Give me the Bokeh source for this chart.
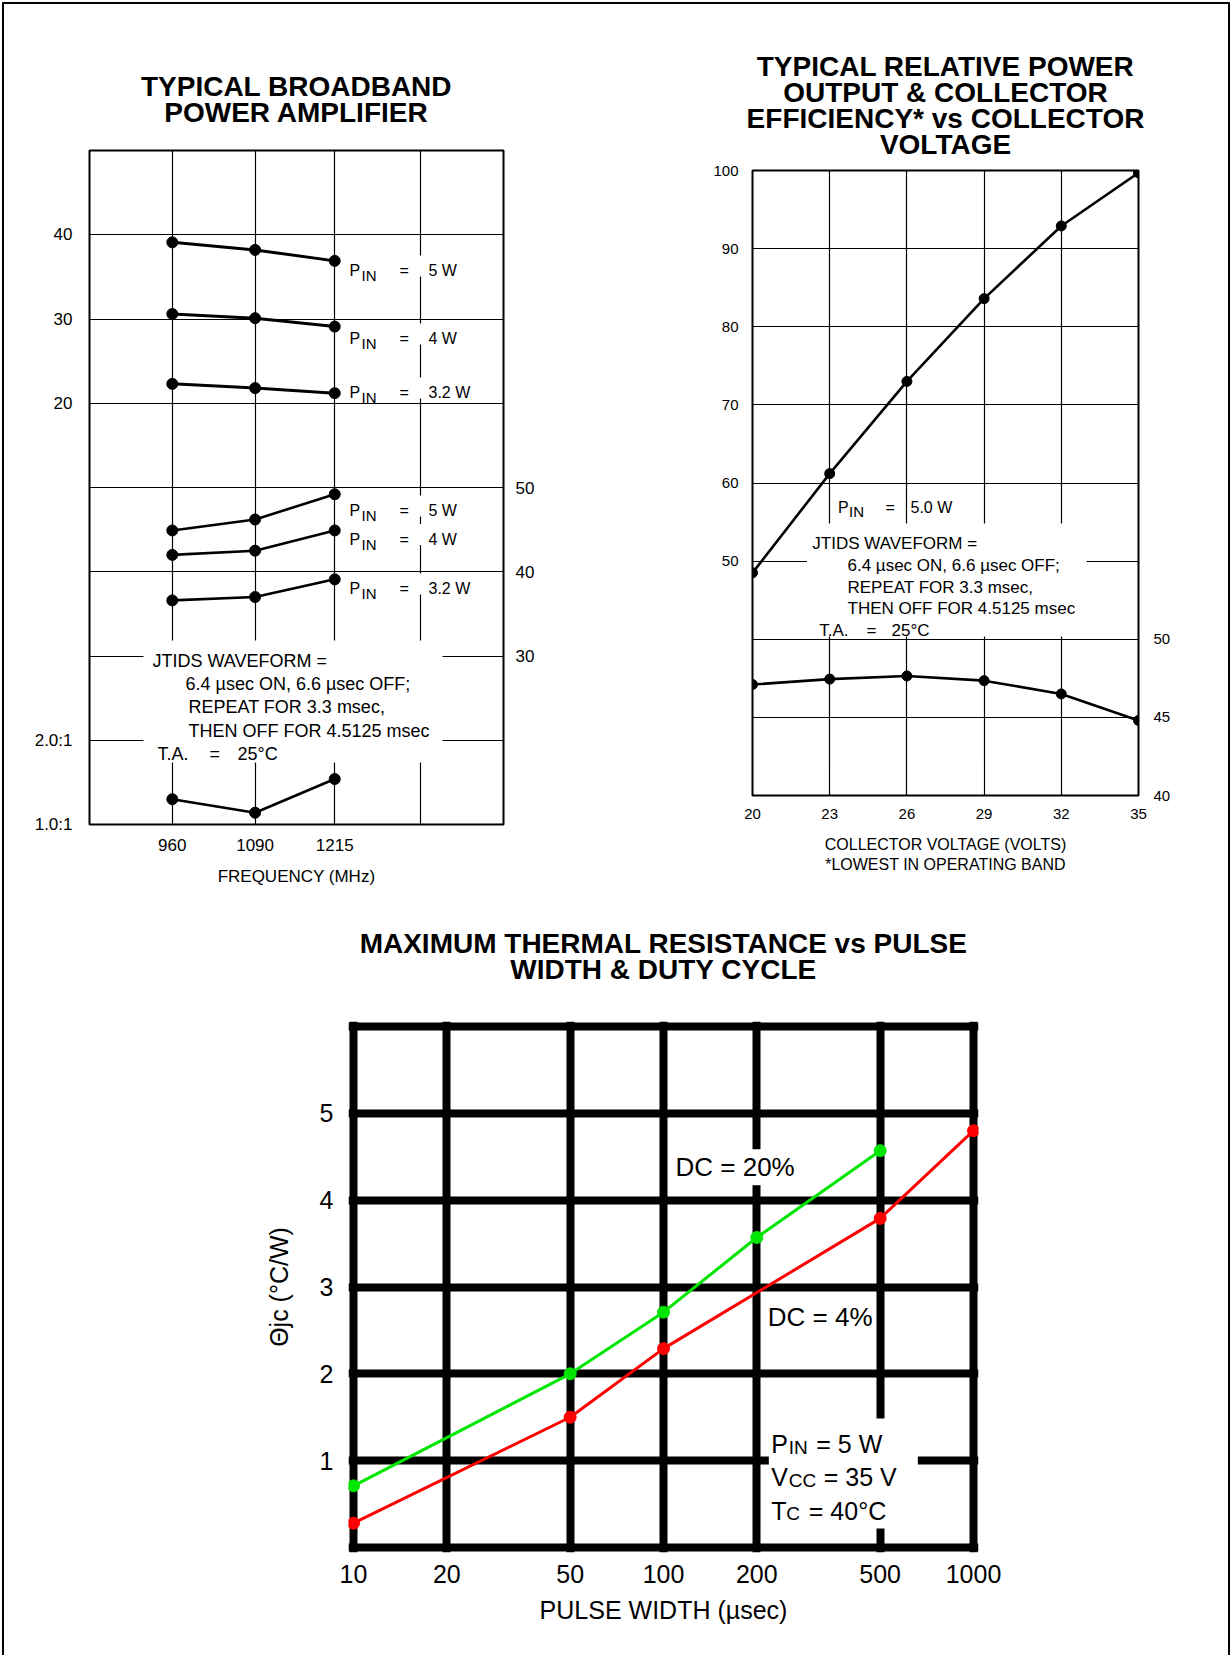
from bokeh.plotting import figure
from bokeh.models import Range1d, LinearAxis, FixedTicker, Label, BoxAnnotation, Title
from bokeh.layouts import column, row
from bokeh.embed import file_html
from bokeh.resources import INLINE

# ---------------- data ----------------
# Chart 1: typical broadband power amplifier
freq_mhz = [960, 1090, 1215]
pout_pin5 = [39.1, 38.2, 36.9]
pout_pin4 = [30.6, 30.1, 29.1]
pout_pin32 = [22.3, 21.8, 21.2]
eff_pin5 = [44.9, 46.2, 49.2]
eff_pin4 = [42.0, 42.5, 44.9]
eff_pin32 = [36.6, 37.0, 39.1]
vswr = [1.30, 1.14, 1.54]
freq_ticks = [960, 1090, 1215]
pout_ticks = [20, 30, 40]
eff_ticks_1 = [30, 40, 50]
vswr_ticks = [1.0, 2.0]
vswr_tick_labels = ["1.0:1", "2.0:1"]
pin_values = ["5 W", "4 W", "3.2 W"]

# Chart 2: relative power output & collector efficiency vs collector voltage
vcc_volts = [20, 23, 26, 29, 32, 35]
rel_power_out = [48.5, 61.2, 73.0, 83.6, 92.9, 99.7]
coll_eff = [47.1, 47.45, 47.65, 47.35, 46.5, 44.8]
vcc_ticks = [20, 23, 26, 29, 32, 35]
rel_ticks = [50, 60, 70, 80, 90, 100]
eff_ticks_2 = [40, 45, 50]

# Chart 3: max thermal resistance vs pulse width & duty cycle
pw_dc20 = [10, 50, 100, 200, 500]
theta_dc20 = [0.71, 2.00, 2.71, 3.57, 4.57]
pw_dc4 = [10, 50, 100, 500, 1000]
theta_dc4 = [0.28, 1.50, 2.29, 3.79, 4.80]
pw_ticks = [10, 20, 50, 100, 200, 500, 1000]
theta_ticks = [1, 2, 3, 4, 5]
theta_edges = [0, 6]

# ---------------- layout geometry (page px) ----------------
FONT = "Liberation Sans"
OX, OY = 4, 4
W1, W2, H_TOP = 606, 618, 896
W3, H3 = 1224, 755
F1 = dict(L=89, R=503, T=150, B=824)
F2 = dict(L=752, R=1138, T=170, B=795)
G3 = dict(L=353, R=973, T=1026, B=1547)    # thick grid box of chart 3
EXT = 5                                     # frame extends past the grid box
F3 = dict(L=G3["L"] - EXT, R=G3["R"] + EXT, T=G3["T"] - EXT, B=G3["B"] + EXT)
TITLE_PX = 28
TITLE_GAP = -7.5


def style_axis(ax, size, standoff, label_size=None, label_standoff=None):
    ax.axis_line_color = None
    ax.major_tick_line_color = None
    ax.minor_tick_line_color = None
    ax.major_tick_in = 0
    ax.major_tick_out = 0
    ax.minor_tick_in = 0
    ax.minor_tick_out = 0
    ax.major_label_text_font = FONT
    ax.major_label_text_font_size = f"{size}px"
    ax.major_label_text_color = "black"
    ax.major_label_standoff = standoff
    ax.axis_label_text_font = FONT
    ax.axis_label_text_font_style = "normal"
    ax.axis_label_text_color = "black"
    if label_size:
        ax.axis_label_text_font_size = f"{label_size}px"
    if label_standoff is not None:
        ax.axis_label_standoff = label_standoff


def _style_title(t, s, standoff):
    t.text = s
    t.align = "center"
    t.text_font = FONT
    t.text_font_size = f"{TITLE_PX}px"
    t.text_font_style = "bold"
    t.text_color = "black"
    t.standoff = standoff


def set_titles(p, lines, spacer_standoff):
    # an invisible spacer sits next to the frame; the title lines stack outward
    # from it bottom-up, and p.title (drawn outermost) carries the top line.
    spacer = Title()
    _style_title(spacer, " ", spacer_standoff)
    p.add_layout(spacer, "above")
    for s in reversed(lines[1:]):
        t = Title()
        _style_title(t, s, TITLE_GAP)
        p.add_layout(t, "above")
    _style_title(p.title, lines[0], TITLE_GAP)


def txt(p, x, y, s, size, bold=False, align="left", dx=0, dy=0, level="annotation",
        bg=None):
    kw = {}
    if bg:
        kw = dict(background_fill_color=bg, background_fill_alpha=1.0, padding=3)
    p.add_layout(Label(x=x, y=y, text=s, x_offset=dx, y_offset=dy,
                       text_font=FONT, text_font_size=f"{size}px",
                       text_font_style="bold" if bold else "normal",
                       text_align=align, text_baseline="alphabetic",
                       text_color="black", level=level, **kw))


def wbox(p, l, r, b, t):
    p.add_layout(BoxAnnotation(left=l, right=r, bottom=b, top=t, fill_color="white",
                               fill_alpha=1.0, line_color=None, level="underlay"))


COMMON = dict(output_backend="svg", toolbar_location=None, frame_align=False)

# ================= Chart 1 =================
X1 = (830, 1480)
Y1 = (-30, 50)
p1 = figure(width=W1, height=H_TOP, x_range=Range1d(*X1), y_range=Range1d(*Y1),
            min_border_left=F1["L"] - OX, min_border_right=W1 - (F1["R"] - OX),
            min_border_top=F1["T"] - OY, min_border_bottom=H_TOP - (F1["B"] - OY), **COMMON)
set_titles(p1, ["TYPICAL BROADBAND", "POWER AMPLIFIER"], -7.5)
p1.extra_y_ranges = {"eff": Range1d(10, 90), "vswr": Range1d(1, 9)}
p1.outline_line_color = "black"
p1.outline_line_width = 2
p1.xgrid.ticker = FixedTicker(ticks=freq_ticks + [1350])
p1.ygrid.ticker = FixedTicker(ticks=[-20, -10, 0, 10, 20, 30, 40])
for g in (p1.xgrid, p1.ygrid):
    g.grid_line_color = "black"
    g.grid_line_width = 1.2
    g.grid_line_alpha = 1


def v2p(v):  # vswr value -> power-axis position (both share the frame)
    r_v, r_p = p1.extra_y_ranges["vswr"], p1.y_range
    return r_p.start + (v - r_v.start) * (r_p.end - r_p.start) / (r_v.end - r_v.start)


p1.xaxis.ticker = FixedTicker(ticks=freq_ticks)
p1.xaxis.axis_label = "FREQUENCY (MHz)"
style_axis(p1.xaxis[0], 17, 14, 17, 13)
ly = p1.yaxis[0]
ly.ticker = FixedTicker(ticks=[v2p(v) for v in vswr_ticks] + pout_ticks)
ly.major_label_overrides = {v2p(v): lab for v, lab in zip(vswr_ticks, vswr_tick_labels)}
style_axis(ly, 17, 17)
ax_eff1 = LinearAxis(y_range_name="eff", ticker=FixedTicker(ticks=eff_ticks_1))
style_axis(ax_eff1, 17, 12)
p1.add_layout(ax_eff1, "right")

for ys in (pout_pin5, pout_pin4, pout_pin32):
    p1.line(freq_mhz, ys, line_color="black", line_width=3)
    p1.scatter(freq_mhz, ys, size=11, color="black")
for ys in (eff_pin5, eff_pin4, eff_pin32):
    p1.line(freq_mhz, ys, line_color="black", line_width=2.6, y_range_name="eff")
    p1.scatter(freq_mhz, ys, size=11, color="black", y_range_name="eff")
p1.line(freq_mhz, vswr, line_color="black", line_width=2.6, y_range_name="vswr")
p1.scatter(freq_mhz, vswr, size=11, color="black", y_range_name="vswr")


def x1(px):
    return X1[0] + (px - F1["L"]) * (X1[1] - X1[0]) / (F1["R"] - F1["L"])


def y1(py):
    return Y1[0] + (F1["B"] - py) * (Y1[1] - Y1[0]) / (F1["B"] - F1["T"])


for val, base in zip(pin_values * 2, [270, 338, 392, 510, 538.5, 588]):
    wbox(p1, x1(345), x1(470), y1(base + 6), y1(base - 15))
    txt(p1, x1(349), y1(base), "P", 16)
    txt(p1, x1(361), y1(base + 5), "IN", 15)
    txt(p1, x1(399), y1(base), "=", 16)
    txt(p1, x1(428), y1(base), val, 16)

wbox(p1, x1(143), x1(442), y1(762), y1(640))
txt(p1, x1(152), y1(660), "JTIDS WAVEFORM =", 18)
txt(p1, x1(185), y1(683.3), "6.4 µsec ON, 6.6 µsec OFF;", 18)
txt(p1, x1(188), y1(706.7), "REPEAT FOR 3.3 msec,", 18)
txt(p1, x1(188), y1(730), "THEN OFF FOR 4.5125 msec", 18)
txt(p1, x1(157), y1(753.3), "T.A.", 18)
txt(p1, x1(209), y1(753.3), "=", 18)
txt(p1, x1(237), y1(753.3), "25°C", 18)

# ================= Chart 2 =================
X2 = (20, 35)
Y2 = (20, 100)
OX2 = OX + W1
p2 = figure(width=W2, height=H_TOP, x_range=Range1d(*X2), y_range=Range1d(*Y2),
            min_border_left=F2["L"] - OX2, min_border_right=W2 - (F2["R"] - OX2),
            min_border_top=F2["T"] - OY, min_border_bottom=H_TOP - (F2["B"] - OY), **COMMON)
set_titles(p2, ["TYPICAL RELATIVE POWER", "OUTPUT & COLLECTOR",
                "EFFICIENCY* vs COLLECTOR", "VOLTAGE"], -19.5)
p2.extra_y_ranges = {"eff": Range1d(40, 80)}
p2.outline_line_color = "black"
p2.outline_line_width = 2
p2.xgrid.ticker = FixedTicker(ticks=vcc_ticks)
p2.ygrid.ticker = FixedTicker(ticks=list(range(30, 100, 10)))
for g in (p2.xgrid, p2.ygrid):
    g.grid_line_color = "black"
    g.grid_line_width = 1.2
    g.grid_line_alpha = 1
p2.xaxis.ticker = FixedTicker(ticks=vcc_ticks)
p2.xaxis.axis_label = "COLLECTOR VOLTAGE (VOLTS)\n*LOWEST IN OPERATING BAND"
style_axis(p2.xaxis[0], 15, 13, 16, 14)
p2.yaxis.ticker = FixedTicker(ticks=rel_ticks)
style_axis(p2.yaxis[0], 15, 14)
ax_eff2 = LinearAxis(y_range_name="eff", ticker=FixedTicker(ticks=eff_ticks_2))
style_axis(ax_eff2, 15, 15)
p2.add_layout(ax_eff2, "right")

p2.line(vcc_volts, rel_power_out, line_color="black", line_width=2.6)
p2.scatter(vcc_volts, rel_power_out, size=10, color="black")
p2.line(vcc_volts, coll_eff, line_color="black", line_width=2.6, y_range_name="eff")
p2.scatter(vcc_volts, coll_eff, size=10, color="black", y_range_name="eff")


def x2(px):
    return X2[0] + (px - F2["L"]) * (X2[1] - X2[0]) / (F2["R"] - F2["L"])


def y2(py):
    return Y2[0] + (F2["B"] - py) * (Y2[1] - Y2[0]) / (F2["B"] - F2["T"])


txt(p2, x2(837.5), y2(506.7), "P", 16)
txt(p2, x2(848.5), y2(511), "IN", 15)
txt(p2, x2(885), y2(506.7), "=", 16)
txt(p2, x2(910), y2(506.7), "5.0 W", 16)
wbox(p2, x2(806.5), x2(1086), y2(636), y2(523))
txt(p2, x2(811.8), y2(543.3), "JTIDS WAVEFORM =", 17)
txt(p2, x2(847), y2(565), "6.4 µsec ON, 6.6 µsec OFF;", 17)
txt(p2, x2(847), y2(586.7), "REPEAT FOR 3.3 msec,", 17)
txt(p2, x2(847), y2(608.3), "THEN OFF FOR 4.5125 msec", 17)
txt(p2, x2(818.8), y2(630), "T.A.", 17)
txt(p2, x2(866), y2(630), "=", 17)
txt(p2, x2(891), y2(630), "25°C", 17)

# ================= Chart 3 =================
Y3 = (0, 6)
OY3 = OY + H_TOP
PX_DEC = (G3["R"] - G3["L"]) / 2.0            # px per decade of the log axis
PX_UNIT = (G3["B"] - G3["T"]) / (Y3[1] - Y3[0])
x_rng3 = Range1d(pw_ticks[0] * 10 ** (-EXT / PX_DEC), pw_ticks[-1] * 10 ** (EXT / PX_DEC))
y_rng3 = Range1d(Y3[0] - EXT / PX_UNIT, Y3[1] + EXT / PX_UNIT)
p3 = figure(width=W3, height=H3, x_axis_type="log", x_range=x_rng3, y_range=y_rng3,
            min_border_left=F3["L"] - OX, min_border_right=W3 - (F3["R"] - OX),
            min_border_top=F3["T"] - OY3, min_border_bottom=H3 - (F3["B"] - OY3), **COMMON)
set_titles(p3, ["MAXIMUM THERMAL RESISTANCE vs PULSE", "WIDTH & DUTY CYCLE"], 7)
p3.outline_line_color = None
p3.xgrid.ticker = FixedTicker(ticks=pw_ticks)
p3.ygrid.ticker = FixedTicker(ticks=[theta_edges[0]] + theta_ticks + [theta_edges[1]])
for g in (p3.xgrid, p3.ygrid):
    g.grid_line_color = "black"
    g.grid_line_width = 8
    g.grid_line_alpha = 1
p3.xaxis.ticker = FixedTicker(ticks=pw_ticks)
p3.xaxis.major_label_overrides = {v: str(v) for v in pw_ticks}
p3.xaxis.axis_label = "PULSE WIDTH (µsec)"
style_axis(p3.xaxis[0], 25, 12, 25, 10)
p3.yaxis.ticker = FixedTicker(ticks=theta_ticks)
p3.yaxis.axis_label = "Θjc (°C/W)"
style_axis(p3.yaxis[0], 25, 15, 25, 24)

p3.line(pw_dc20, theta_dc20, line_color="#00e600", line_width=3)
p3.scatter(pw_dc20, theta_dc20, size=12, color="#00e600")
p3.line(pw_dc4, theta_dc4, line_color="#ff0000", line_width=3)
p3.scatter(pw_dc4, theta_dc4, size=12, color="#ff0000")


def x3(base, dpx):
    return base * 10 ** (dpx / PX_DEC)


def y3(py):
    return Y3[0] + (G3["B"] - py) / PX_UNIT


txt(p3, 100, y3(1166.7), "DC = 20%", 26, dx=9, level="underlay", bg="white")
txt(p3, 200, y3(1316.7), "DC = 4%", 26, dx=8, level="underlay", bg="white")

wbox(p3, x3(200, 12), x3(200, 161), y3(1528), y3(1418))
txt(p3, 200, y3(1443.3), "P", 25, dx=14.5)
txt(p3, 200, y3(1446.7), "IN", 19, dx=32)
txt(p3, 200, y3(1443.3), "= 5 W", 25, dx=59.5)
txt(p3, 200, y3(1476.7), "V", 25, dx=14.5)
txt(p3, 200, y3(1480), "CC", 19, dx=32)
txt(p3, 200, y3(1476.7), "= 35 V", 25, dx=67)
txt(p3, 200, y3(1510), "T", 25, dx=14.5)
txt(p3, 200, y3(1513.3), "C", 19, dx=29.5)
txt(p3, 200, y3(1510), "= 40°C", 25, dx=52)

for p in (p1, p2, p3):
    p.background_fill_color = "white"
    p.border_fill_color = "white"

page = column(row(p1, p2), p3,
              styles={"margin-left": "2px", "margin-top": "2px",
                      "border-left": "2px solid black", "border-top": "2px solid black",
                      "border-right": "2px solid black"})

with open("out.html", "w") as f:
    f.write(file_html(page, INLINE))
